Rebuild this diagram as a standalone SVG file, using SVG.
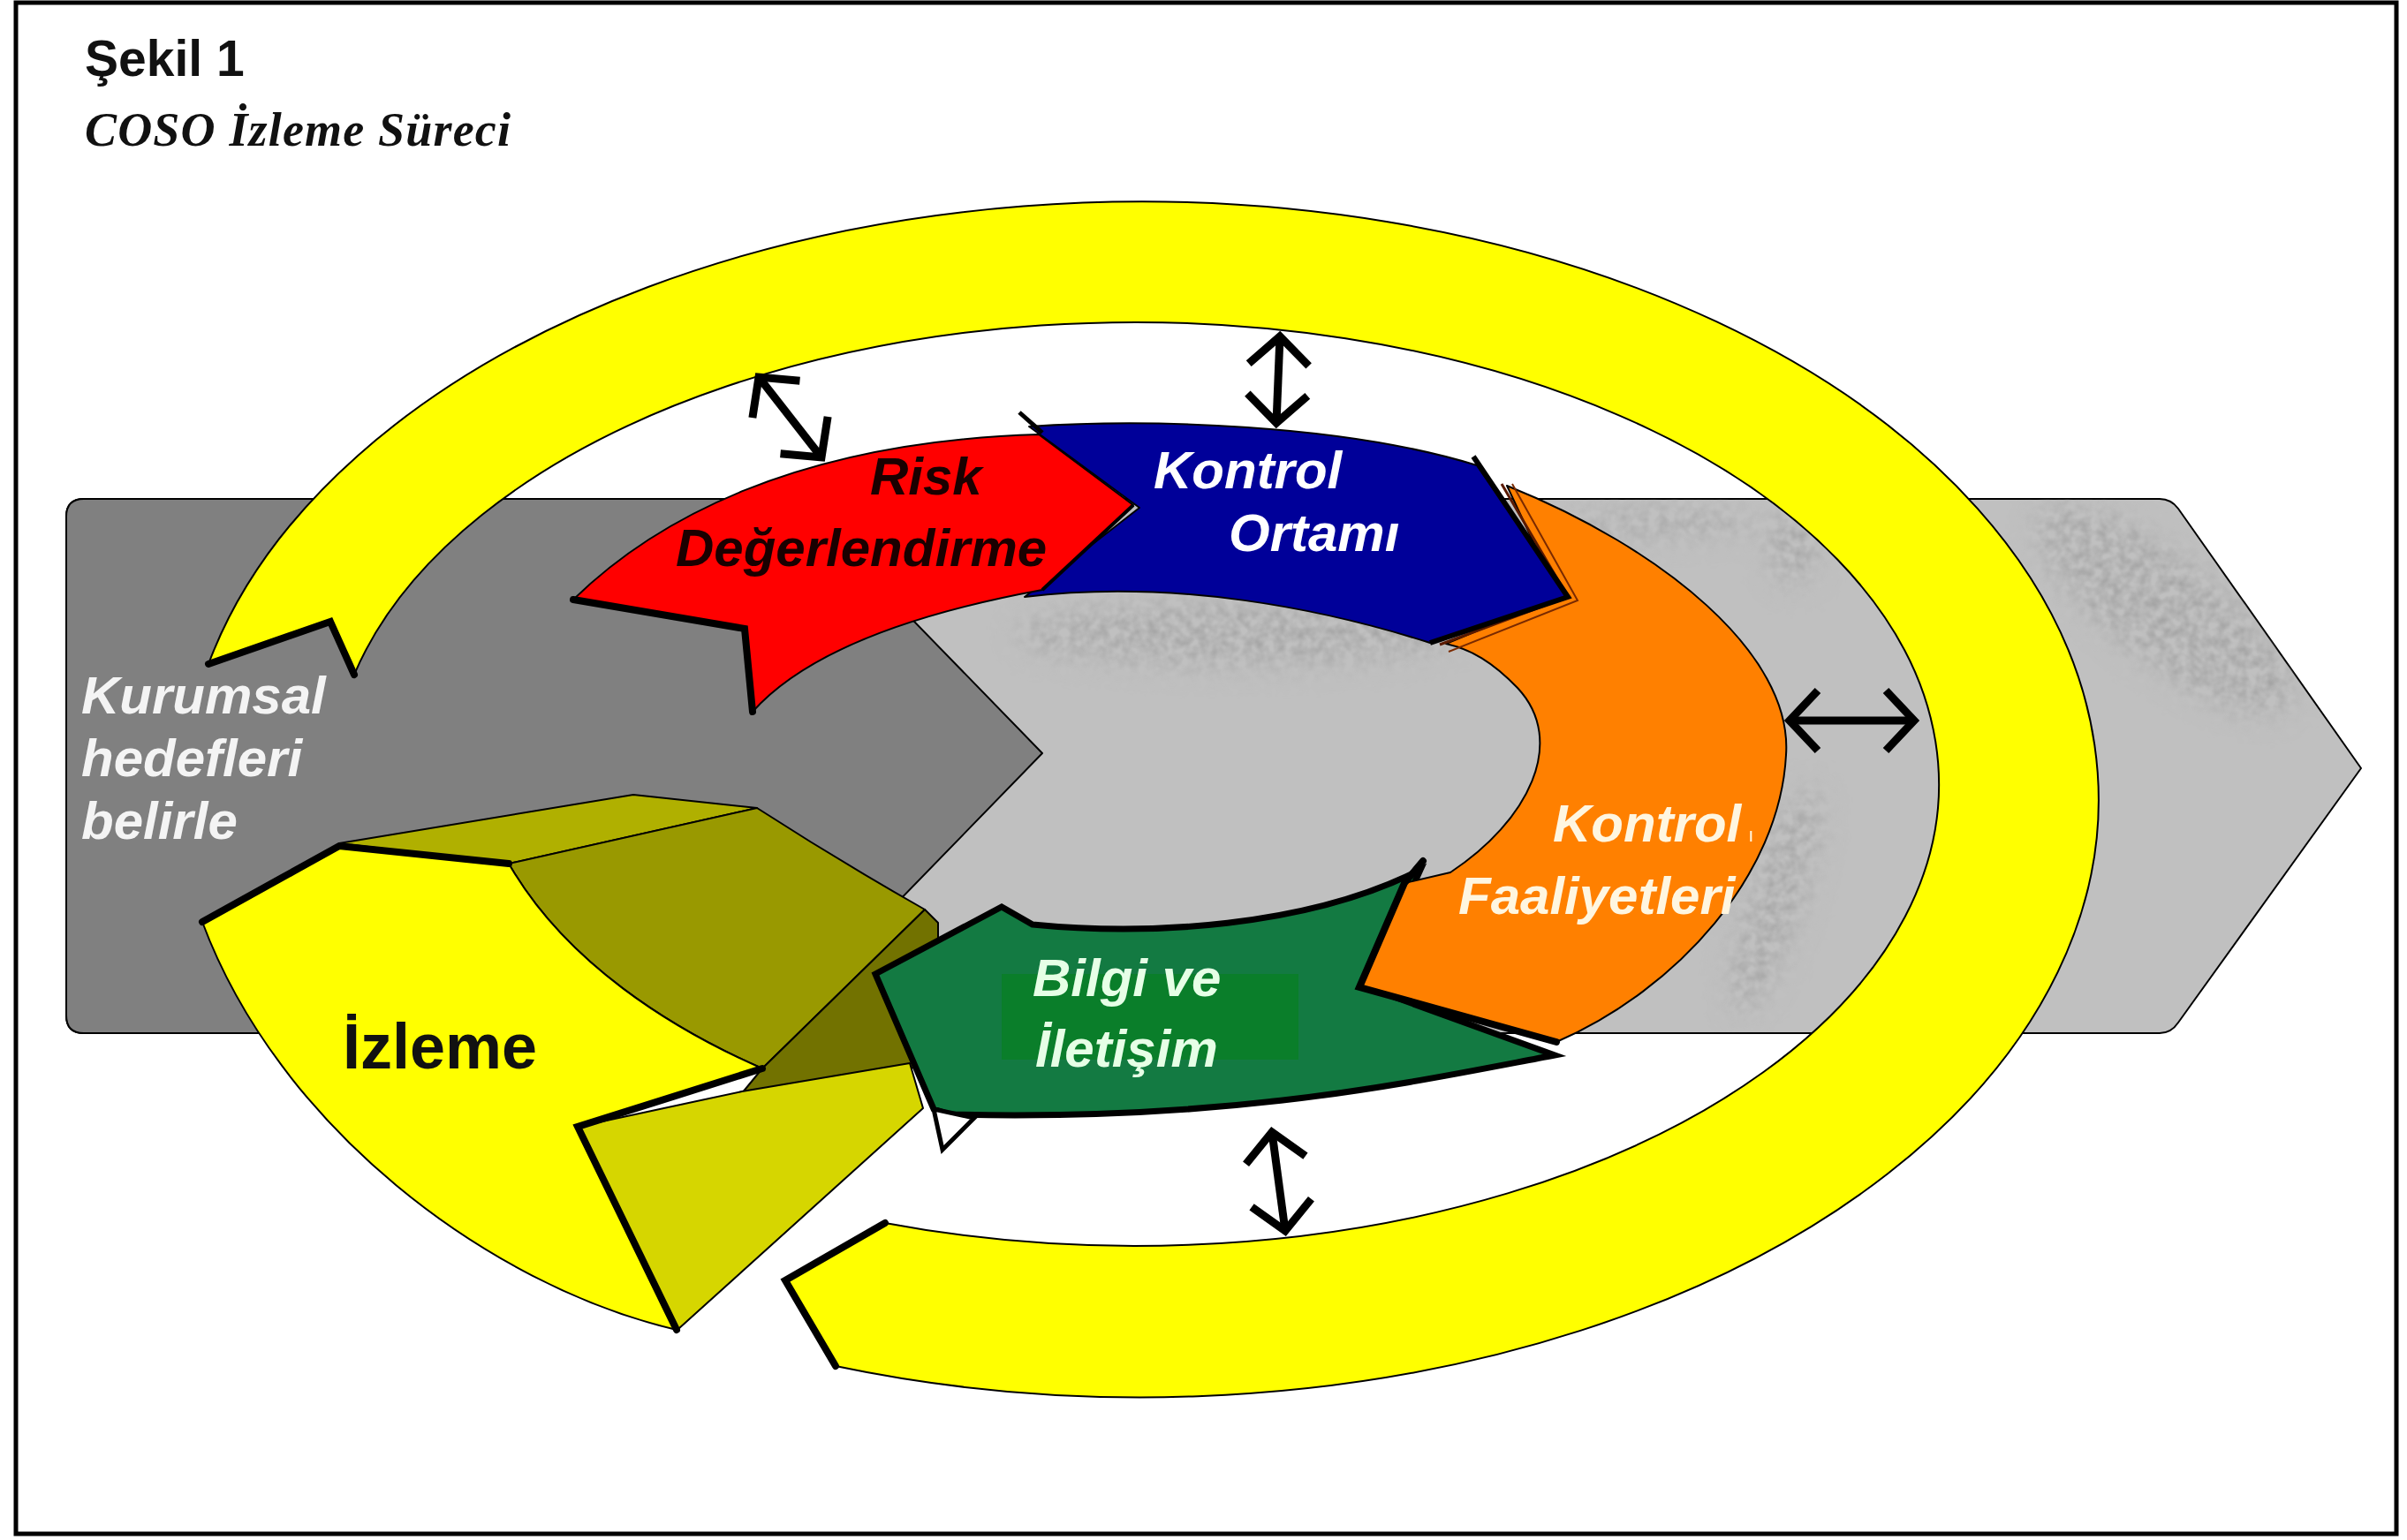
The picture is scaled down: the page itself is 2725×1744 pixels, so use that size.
<svg xmlns="http://www.w3.org/2000/svg" width="2725" height="1744" viewBox="0 0 2725 1744">
<style>
.ol{stroke:#000;stroke-width:2;stroke-linejoin:round}
.thick{fill:none;stroke:#000;stroke-width:8;stroke-linejoin:miter;stroke-linecap:round}
.lbl{font-family:"Liberation Sans",Arial,sans-serif;font-weight:bold;font-style:italic;font-size:60px}
.dbl{fill:none;stroke:#000;stroke-width:9;marker-start:url(#ah);marker-end:url(#ah)}
.tex{fill:#9c9c9c;filter:url(#mottle)}
</style>
<defs>
<marker id="ah" viewBox="0 0 50 80" refX="44" refY="40" markerWidth="50" markerHeight="80" markerUnits="userSpaceOnUse" orient="auto-start-reverse" style="overflow:visible">
<path d="M12,6 L44,40 L12,74" fill="none" stroke="#000" stroke-width="9"/>
</marker>
<filter id="mottle" x="-30%" y="-30%" width="160%" height="160%">
<feGaussianBlur in="SourceGraphic" stdDeviation="16" result="b"/>
<feTurbulence type="fractalNoise" baseFrequency="0.09" numOctaves="2" seed="5" result="n"/>
<feColorMatrix in="n" type="matrix" values="0 0 0 0 0 0 0 0 0 0 0 0 0 0 0 1.4 0 0 0 -0.4" result="a"/>
<feComposite in="b" in2="a" operator="in"/>
</filter>
<clipPath id="bandclip">
<path d="M95,565 L2445,565 Q2458,565 2466,576 L2673,870 L2466,1158 Q2458,1170 2445,1170 L95,1170 Q75,1170 75,1150 L75,585 Q75,565 95,565 Z"/>
</clipPath>
</defs>
<rect x="0" y="0" width="2725" height="1744" fill="#fff"/>
<rect x="18" y="3" width="2695" height="1734" fill="none" stroke="#000" stroke-width="5"/>
<g id="title">
<text x="96" y="86" font-family="Liberation Sans, Arial, sans-serif" font-weight="bold" font-size="57" fill="#111">Şekil 1</text>
<text x="96" y="165" font-family="Liberation Serif, Times New Roman, serif" font-weight="bold" font-style="italic" font-size="54" textLength="482" lengthAdjust="spacing" fill="#111">COSO İzleme Süreci</text>
</g>
<g id="band">
<path class="ol" fill="#c0c0c0" d="M95,565 L2445,565 Q2458,565 2466,576 L2673,870 L2466,1158 Q2458,1170 2445,1170 L95,1170 Q75,1170 75,1150 L75,585 Q75,565 95,565 Z"/>
<g clip-path="url(#bandclip)">
<g class="tex">
<ellipse cx="1400" cy="718" rx="250" ry="36"/>
<ellipse cx="1880" cy="592" rx="110" ry="16"/>
<ellipse cx="2010" cy="1020" rx="30" ry="135" transform="rotate(18 2010 1020)"/>
<ellipse cx="2450" cy="690" rx="180" ry="60" transform="rotate(38 2450 690)"/>
<ellipse cx="2030" cy="620" rx="28" ry="45"/>
</g>
</g>
<path class="ol" fill="#808080" d="M95,565 L900,565 L1180,853 L872,1170 L95,1170 Q75,1170 75,1150 L75,585 Q75,565 95,565 Z"/>
</g>
<g id="kurumsal">
<text class="lbl" fill="#f4f4f4"><tspan x="92" y="808">Kurumsal</tspan><tspan x="92" y="879">hedefleri</tspan><tspan x="92" y="950">belirle</tspan></text>
</g>
<g id="izleme-ring">
<path class="ol" fill="#ffff00" d="M236,752 A1084,677 0 1 1 946,1547 L889,1450 L1002,1385 A910,523 0 1 0 401,764 L374,704 Z"/>
<polyline class="thick" points="236,752 374,704 401,764"/>
<polyline class="thick" points="946,1547 889,1450 1002,1385"/>
</g>
<g id="izleme">
<path class="ol" fill="#b0b000" d="M384,955 L717,900 L857,915 L576,978 Z"/>
<path class="ol" fill="#999900" d="M576,978 L857,915 Q950,975 1047,1030 L863,1210 C760,1165 640,1090 576,978 Z"/>
<path class="ol" fill="#727200" d="M863,1210 L1047,1030 L1062,1045 L1062,1205 L840,1238 Z"/>
<path class="ol" fill="#d6d600" d="M654,1276 L840,1236 L1030,1204 L1045,1255 L768,1505 Z"/>
<path class="ol" fill="#ffff00" d="M229,1044 L384,958 L576,978 C640,1090 760,1165 863,1210 L654,1276 L766,1506 C550,1455 315,1275 229,1044 Z"/>
<polyline class="thick" points="229,1044 384,958 576,978"/>
<polyline class="thick" points="863,1210 654,1276 766,1506"/>
<text x="388" y="1210" font-family="Liberation Sans, Arial, sans-serif" font-weight="bold" font-size="72" fill="#111">İzleme</text>
</g>
<g id="bilgi">
<path fill="#137a42" stroke="#000" stroke-width="7" stroke-linejoin="miter" d="M991,1103 L1134,1027 L1169,1047 C1300,1060 1480,1050 1608,985 L1548,1118 L1760,1195 C1600,1225 1400,1270 1075,1262 L1057,1256 Z"/>
<polygon points="1057,1256 1067,1302 1103,1266" fill="#fff" stroke="#000" stroke-width="5"/>
<rect x="1134" y="1103" width="336" height="97" fill="#0a7e2a"/>
<text class="lbl" font-size="58" fill="#e6ffe6"><tspan x="1169" y="1128">Bilgi ve</tspan><tspan x="1172" y="1208">İletişim</tspan></text>
</g>
<g id="faaliyet">
<path class="ol" fill="#ff8000" d="M1706,550 C1880,620 2030,740 2022,855 C2015,990 1900,1120 1762,1180 L1539,1118 L1590,1000 L1642,988 C1730,930 1775,840 1718,779 C1690,750 1665,735 1637,729 L1765,676 Z"/>
<polyline points="1700,548 1775,676 1630,730" fill="none" stroke="#5a1a00" stroke-width="3"/>
<polyline points="1712,548 1786,680 1640,738" fill="none" stroke="#7a2a00" stroke-width="2"/>
<polyline class="thick" points="1762,1180 1539,1118 1590,1000 1611,975"/>
<text class="lbl" fill="#fff6e0"><tspan x="1758" y="953">Kontrol<tspan font-size="22" font-weight="normal" font-style="normal" dx="8">ı</tspan></tspan><tspan x="1651" y="1035">Faaliyetleri</tspan></text>
</g>
<g id="ortam">
<path class="ol" fill="#000099" d="M1165,483 C1300,474 1520,480 1672,527 L1775,676 L1619,728 C1500,690 1330,655 1160,676 L1290,575 Z"/>
<polyline points="1668,517 1775,676 1619,728" fill="none" stroke="#000" stroke-width="6" stroke-linejoin="miter"/>
<text class="lbl" fill="#fff"><tspan x="1306" y="553">Kontrol</tspan><tspan x="1391" y="624">Ortamı</tspan></text>
</g>
<g id="risk">
<path class="ol" fill="#ff0000" d="M649,679 C740,590 900,500 1176,492 L1283,572 L1180,668 C1060,690 920,730 852,806 L843,712 Z"/>
<polyline class="thick" points="649,679 843,712 852,806"/>
<polyline points="1283,572 1180,668" fill="none" stroke="#000" stroke-width="4"/>
<line x1="1154" y1="467" x2="1180" y2="490" stroke="#000" stroke-width="5"/>
<text class="lbl" fill="#1a0000"><tspan x="985" y="560">Risk</tspan><tspan x="765" y="641">Değerlendirme</tspan></text>
</g>
<g id="connectors">
<line class="dbl" x1="859" y1="427" x2="930" y2="518"/>
<line class="dbl" x1="1449" y1="381" x2="1445" y2="479"/>
<line class="dbl" x1="2026" y1="816" x2="2167" y2="816"/>
<line class="dbl" x1="1440" y1="1282" x2="1455" y2="1394"/>
</g>
</svg>
